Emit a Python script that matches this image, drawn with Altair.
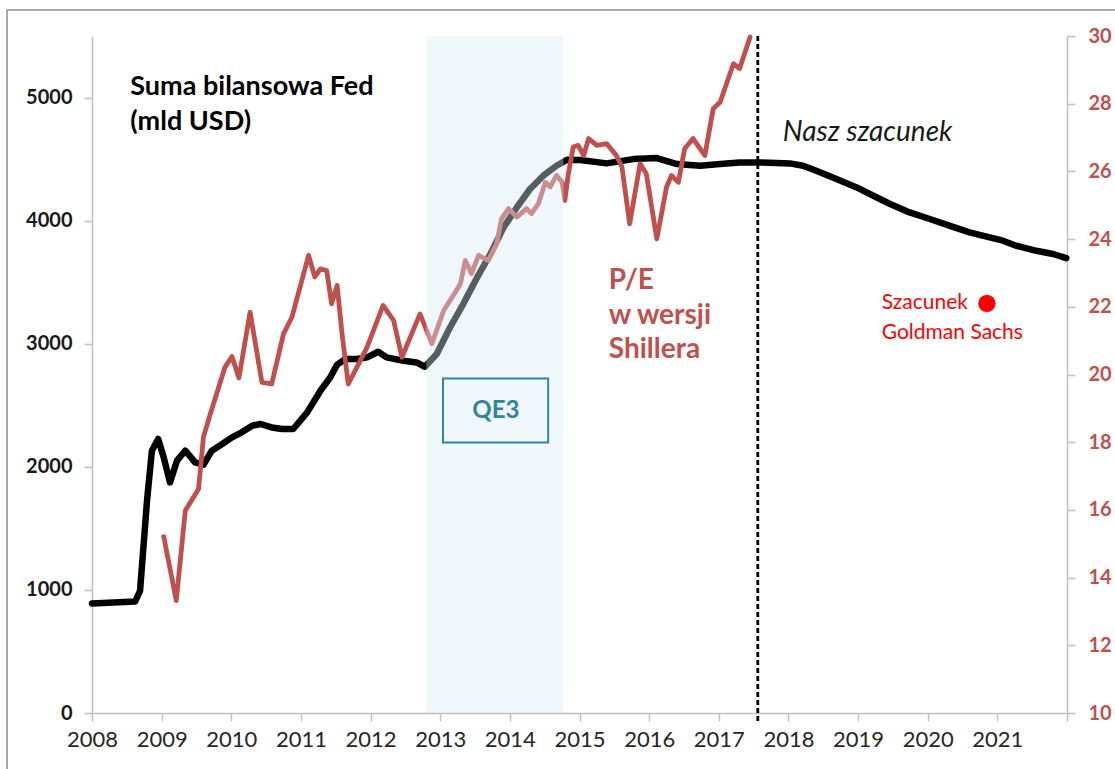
import altair as alt
import pandas as pd

# ---- data ----
fed_years = [2008.00, 2008.62, 2008.69, 2008.79, 2008.86, 2008.95, 2009.03, 2009.12, 2009.22,
             2009.34, 2009.48, 2009.60, 2009.72, 2009.87, 2010.01, 2010.15, 2010.30, 2010.42,
             2010.58, 2010.73, 2010.89, 2011.09, 2011.28, 2011.42, 2011.52, 2011.64, 2011.80,
             2011.95, 2012.11, 2012.23, 2012.47, 2012.66, 2012.78, 2012.95, 2013.14, 2013.33,
             2013.53, 2013.72, 2013.91, 2014.10, 2014.29, 2014.48, 2014.67, 2014.82, 2015.01,
             2015.39, 2015.77, 2016.11, 2016.40, 2016.73, 2017.02, 2017.30, 2017.59, 2018.02,
             2018.21, 2018.40, 2018.69, 2018.98, 2019.27, 2019.46, 2019.74, 2020.03, 2020.31,
             2020.60, 2020.89, 2021.08, 2021.27, 2021.56, 2021.80, 2021.99]
fed_values = [890, 906, 993, 1725, 2131, 2226, 2076, 1873, 2050,
              2131, 2036, 2017, 2131, 2185, 2239, 2280, 2334, 2348,
              2320, 2307, 2307, 2442, 2618, 2726, 2830, 2876, 2876,
              2889, 2935, 2889, 2862, 2848, 2813, 2916, 3132, 3322,
              3539, 3729, 3945, 4107, 4257, 4365, 4446, 4495, 4492,
              4465, 4500, 4508, 4460, 4446, 4460, 4473, 4473, 4465,
              4446, 4405, 4338, 4270, 4188, 4135, 4067, 4013, 3959,
              3904, 3864, 3837, 3796, 3755, 3729, 3696]

pe_years = [2009.03, 2009.21, 2009.34, 2009.53, 2009.60, 2009.70, 2009.91, 2010.01, 2010.11,
            2010.27, 2010.44, 2010.58, 2010.75, 2010.87, 2011.11, 2011.20, 2011.28, 2011.37,
            2011.44, 2011.52, 2011.59, 2011.68, 2011.83, 2011.95, 2012.18, 2012.33, 2012.45,
            2012.71, 2012.88, 2013.05, 2013.19, 2013.29, 2013.36, 2013.45, 2013.55, 2013.69,
            2013.81, 2013.88, 2013.98, 2014.10, 2014.24, 2014.31, 2014.41, 2014.51, 2014.58,
            2014.67, 2014.75, 2014.79, 2014.84, 2014.91, 2014.98, 2015.06, 2015.13, 2015.25,
            2015.39, 2015.53, 2015.61, 2015.72, 2015.87, 2015.96, 2016.11, 2016.25, 2016.32,
            2016.42, 2016.51, 2016.63, 2016.80, 2016.92, 2017.02, 2017.21, 2017.30, 2017.45]
pe_values = [15.21, 13.32, 15.98, 16.62, 18.15, 18.84, 20.22, 20.53, 19.90,
             21.84, 19.77, 19.72, 21.20, 21.69, 23.52, 22.88, 23.12, 23.07,
             22.09, 22.63, 21.20, 19.72, 20.32, 20.81, 22.04, 21.60, 20.51,
             21.79, 20.91, 21.89, 22.34, 22.68, 23.37, 22.98, 23.52, 23.37,
             23.86, 24.60, 24.90, 24.65, 24.90, 24.75, 25.05, 25.68, 25.54,
             25.88, 25.68, 25.14, 25.93, 26.72, 26.77, 26.47, 26.97, 26.77,
             26.82, 26.47, 26.13, 24.45, 26.23, 25.93, 24.01, 25.54, 25.88,
             25.68, 26.67, 26.97, 26.47, 27.85, 28.05, 29.18, 29.04, 29.97]

x_ticks = list(range(2008, 2023))
left_ticks = [0, 1000, 2000, 3000, 4000, 5000]
right_ticks = [10, 12, 14, 16, 18, 20, 22, 24, 26, 28, 30]

qe3_start = [2012.80]
qe3_end = [2014.77]
forecast_start = [2017.56]

# annotations (positions in P/E-axis units)
title_lines = ["Suma bilansowa Fed", "(mld USD)"]
title_x = [2008.55, 2008.55]
title_y = [28.48, 27.45]

pe_label_lines = ["P/E", "w wersji", "Shillera"]
pe_label_x = [2015.42, 2015.42, 2015.42]
pe_label_y = [22.75, 21.74, 20.71]

forecast_label = ["Nasz szacunek"]
forecast_label_x = [2017.92]
forecast_label_y = [27.12]

qe3_label = ["QE3"]
qe3_label_x = [2013.80]
qe3_label_y = [18.93]
qe3_box_x = [2013.04]
qe3_box_x2 = [2014.55]
qe3_box_y = [19.88]
qe3_box_y2 = [17.99]

gs_lines = ["Szacunek", "Goldman Sachs"]
gs_x = [2019.34, 2019.34]
gs_y = [22.10, 21.24]
gs_dot_x = [2020.85]
gs_dot_y = [22.10]

# ---- styling ----
FONT = "Lato"
W, H = 975, 677
RED = "#C0504D"
AXIS_GRAY = "#BFBFBF"

fed_df = pd.DataFrame({"year": fed_years, "value": fed_values})
pe_df = pd.DataFrame({"year": pe_years, "pe": pe_values})

x_axis = alt.Axis(values=x_ticks, format="d",
                  labelExpr="datum.value < 2022 ? datum.label : ''",
                  title=None, grid=False, labelFont=FONT, labelFontSize=22,
                  labelColor="#262626", tickColor=AXIS_GRAY, tickSize=8,
                  domainColor=AXIS_GRAY, domainWidth=1.5, tickWidth=1.5,
                  labelPadding=8, labelFlush=False)
x_scale = alt.Scale(domain=[2008, 2022], nice=False, zero=False)


def X(field):
    return alt.X(f"{field}:Q", scale=x_scale, axis=x_axis)


left_axis = alt.Axis(values=left_ticks, format="d", title=None, grid=False, orient="left",
                     labelFont=FONT, labelFontSize=20, labelFontWeight="bold",
                     labelColor="#1a1a1a", tickColor=AXIS_GRAY, tickSize=8,
                     tickWidth=1.5, domainColor=AXIS_GRAY, domainWidth=1.5,
                     labelPadding=12)
right_axis = alt.Axis(values=right_ticks, format="d", title=None, grid=False, orient="right",
                      labelFont=FONT, labelFontSize=20, labelFontWeight="bold",
                      labelColor=RED, tickColor=AXIS_GRAY, tickSize=8,
                      tickWidth=1.5, domainColor=AXIS_GRAY, domainWidth=1.5,
                      labelPadding=13)
right_scale = alt.Scale(domain=[10, 30], nice=False, zero=False)


def YR(field):
    return alt.Y(f"{field}:Q", scale=right_scale, axis=right_axis)


fed_line = alt.Chart(fed_df).mark_line(
    color="#000000", strokeWidth=6.5, strokeJoin="round", strokeCap="round"
).encode(
    x=X("year"),
    y=alt.Y("value:Q", scale=alt.Scale(domain=[0, 5500], nice=False), axis=left_axis),
)

pe_line = alt.Chart(pe_df).mark_line(
    color=RED, strokeWidth=4.8, strokeJoin="round", strokeCap="round"
).encode(x=X("year"), y=YR("pe"))

band = alt.Chart(pd.DataFrame({"start": qe3_start, "end": qe3_end})).mark_rect(
    color="#D8ECF2", opacity=0.4
).encode(x=X("start"), x2="end:Q", y=alt.value(0), y2=alt.value(H))

qe_box = alt.Chart(pd.DataFrame({"x": qe3_box_x, "x2": qe3_box_x2,
                                 "y": qe3_box_y, "y2": qe3_box_y2})).mark_rect(
    fill="transparent", stroke="#31849B", strokeWidth=2
).encode(x=X("x"), x2="x2:Q", y=YR("y"), y2="y2:Q")

qe_text = alt.Chart(pd.DataFrame({"x": qe3_label_x, "y": qe3_label_y, "t": qe3_label})).mark_text(
    font=FONT, fontSize=24, fontWeight="bold", color="#31849B", align="center", baseline="middle"
).encode(x=X("x"), y=YR("y"), text="t:N")

rule = alt.Chart(pd.DataFrame({"x": forecast_start})).mark_rule(
    color="#000000", strokeWidth=2.8, strokeDash=[5, 3]
).encode(x=X("x"), y=alt.value(0), y2=alt.value(H + 8))

title_text = alt.Chart(pd.DataFrame({"x": title_x, "y": title_y, "t": title_lines})).mark_text(
    font=FONT, fontSize=27, fontWeight="bold", color="#000000", align="left", baseline="middle"
).encode(x=X("x"), y=YR("y"), text="t:N")

pe_text = alt.Chart(pd.DataFrame({"x": pe_label_x, "y": pe_label_y, "t": pe_label_lines})).mark_text(
    font=FONT, fontSize=28, fontWeight="bold", color=RED, align="left", baseline="middle"
).encode(x=X("x"), y=YR("y"), text="t:N")

fc_text = alt.Chart(pd.DataFrame({"x": forecast_label_x, "y": forecast_label_y,
                                  "t": forecast_label})).mark_text(
    font=FONT, fontSize=28, fontStyle="italic", color="#1a1a1a", align="left", baseline="middle"
).encode(x=X("x"), y=YR("y"), text="t:N")

gs_text = alt.Chart(pd.DataFrame({"x": gs_x, "y": gs_y, "t": gs_lines})).mark_text(
    font=FONT, fontSize=21, color="#FF0000", align="left", baseline="middle"
).encode(x=X("x"), y=YR("y"), text="t:N")

gs_dot = alt.Chart(pd.DataFrame({"x": gs_dot_x, "y": gs_dot_y})).mark_circle(
    color="#FF0000", opacity=1, size=300
).encode(x=X("x"), y=YR("y"))

frame = alt.Chart(pd.DataFrame({"k": [0]})).mark_rect(
    fill="transparent", stroke="#8C8C8C", strokeWidth=1.5
).encode(x=alt.value(-85), x2=alt.value(1200), y=alt.value(-26), y2=alt.value(900))

right_group = alt.layer(pe_line, band, qe_box, qe_text, rule, title_text, pe_text,
                        fc_text, gs_text, gs_dot, frame)

chart = alt.layer(fed_line, right_group).resolve_scale(y="independent").properties(
    width=W, height=H,
    autosize=alt.AutoSizeParams(type="none"),
    padding={"left": 92, "top": 36, "right": 48, "bottom": 56},
    background="white",
).configure_view(stroke=None)

chart.save("out.html", embed_options={"renderer": "svg", "actions": False})
